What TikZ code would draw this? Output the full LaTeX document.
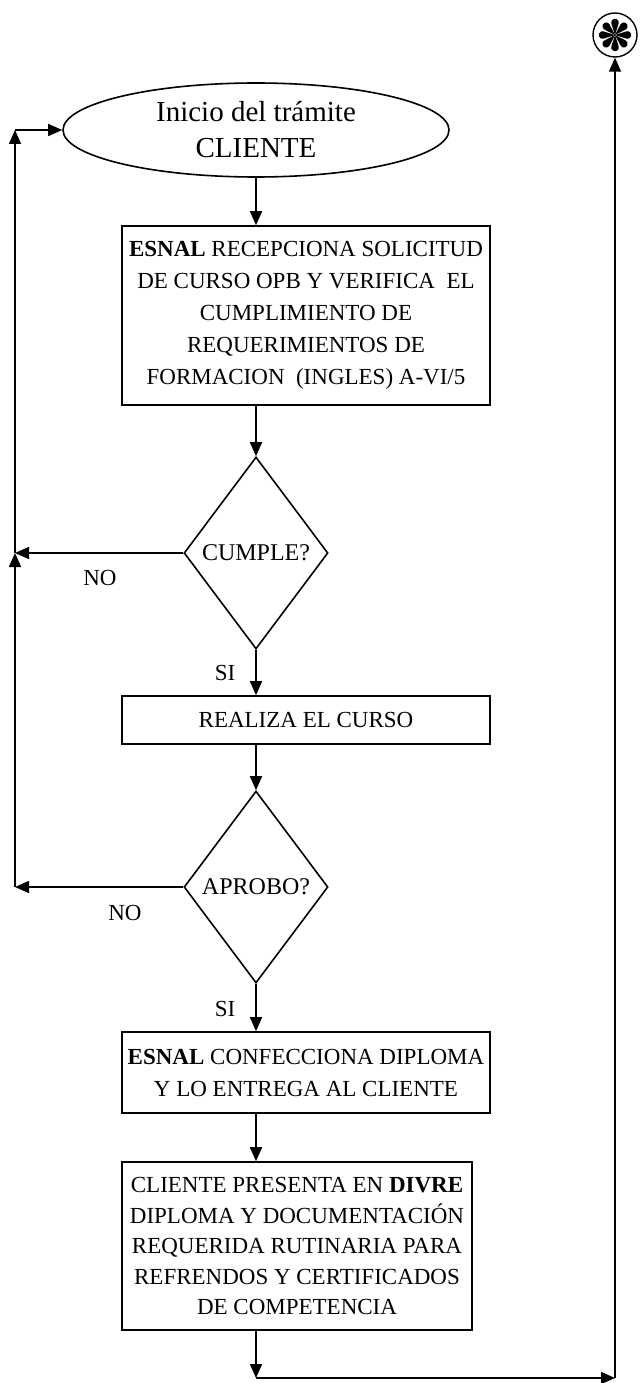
\documentclass[tikz,border=0pt]{standalone}
\usepackage{fontspec}
\setmainfont{Liberation Serif}
\usetikzlibrary{shapes.geometric,arrows.meta}
\tikzset{
  flow/.style={line width=1.6pt},
  arr/.style={flow,-{Triangle[length=14pt,width=12pt]}},
  procbox/.style={draw,line width=1.6pt,rectangle,align=center,inner sep=0pt,font=\fontsize{23}{32}\selectfont},
  startnode/.style={draw,line width=1.6pt,ellipse,inner sep=0pt,align=center,font=\fontsize{29}{36}\selectfont},
  decision/.style={draw,line width=1.6pt,diamond,inner sep=0pt,shape aspect=0.75,font=\fontsize{24}{28}\selectfont},
  lbl/.style={font=\fontsize{23}{28}\selectfont,inner sep=0pt},
}
\begin{document}
\begin{tikzpicture}[x=1pt,y=-1pt]
\useasboundingbox (0,0) rectangle (641,1383);
% nodes
\node[startnode,minimum width=386,minimum height=94] (start) at (256,130) {Inicio del trámite\\CLIENTE};
\node[procbox,minimum width=368,minimum height=179] (b1) at (306,315.5)
  {{\bfseries ESNAL} RECEPCIONA SOLICITUD\\DE CURSO OPB Y VERIFICA\ \ EL\\CUMPLIMIENTO DE\\REQUERIMIENTOS DE\\FORMACION\ \ (INGLES) A-VI/5};
\node[decision,minimum width=144,minimum height=192] (d1) at (256,553) {CUMPLE?};
\node[procbox,minimum width=368,minimum height=48] (b2) at (306,720) {REALIZA EL CURSO};
\node[decision,minimum width=144,minimum height=192] (d2) at (256,887) {APROBO?};
\node[procbox,minimum width=368,minimum height=81] (b3) at (306,1072.5)
  {{\bfseries ESNAL} CONFECCIONA DIPLOMA\\Y LO ENTREGA AL CLIENTE};
\node[procbox,minimum width=350,minimum height=168,font=\fontsize{23}{30.5}\selectfont] (b4) at (297,1246)
  {CLIENTE PRESENTA EN {\bfseries DIVRE}\\DIPLOMA Y DOCUMENTACIÓN\\REQUERIDA RUTINARIA PARA\\REFRENDOS Y CERTIFICADOS\\DE COMPETENCIA};
\node[draw,circle,line width=1.4pt,minimum size=44,inner sep=0pt] (sym) at (615,35) {};
\foreach \a in {0,45,...,315}{
  \fill[shift={(sym.center)},rotate=\a] (0,0) -- (11.2,-3.6) arc[start angle=-110,end angle=110,radius=3.8] -- cycle;
}
% labels
\node[lbl] (no1) at (100,578) {NO};
\node[lbl] (no2) at (125,913) {NO};
\node[lbl] (si1) at (225,673) {SI};
\node[lbl] (si2) at (225,1009) {SI};
% helper coordinates
\coordinate (L0) at (15,130);
\coordinate (L1) at (15,553);
\coordinate (L2) at (15,887);
\coordinate (BL) at (256,1378);
\coordinate (BR) at (615,1378);
% connectors
\draw[arr] (start.south) -- (start.south |- b1.north);
\draw[arr] (d1.north |- b1.south) -- (d1.north);
\draw[arr] (d1.south) -- (d1.south |- b2.north);
\draw[arr] (d2.north |- b2.south) -- (d2.north);
\draw[arr] (d2.south) -- (d2.south |- b3.north);
\draw[arr] (d2.south |- b3.south) -- (d2.south |- b4.north);
\draw[arr] (d1.west) -- (L1);
\draw[arr] (d2.west) -- (L2);
\draw[arr] (L2) -- (L1);
\draw[arr] (L1) -- (L0);
\draw[arr] (L0) -- (start.west);
\draw[arr] (d2.south |- b4.south) -- (BL);
\draw[arr] (BL) -- (BR);
\draw[arr] (BR) -- (sym.south);
\end{tikzpicture}
\end{document}
